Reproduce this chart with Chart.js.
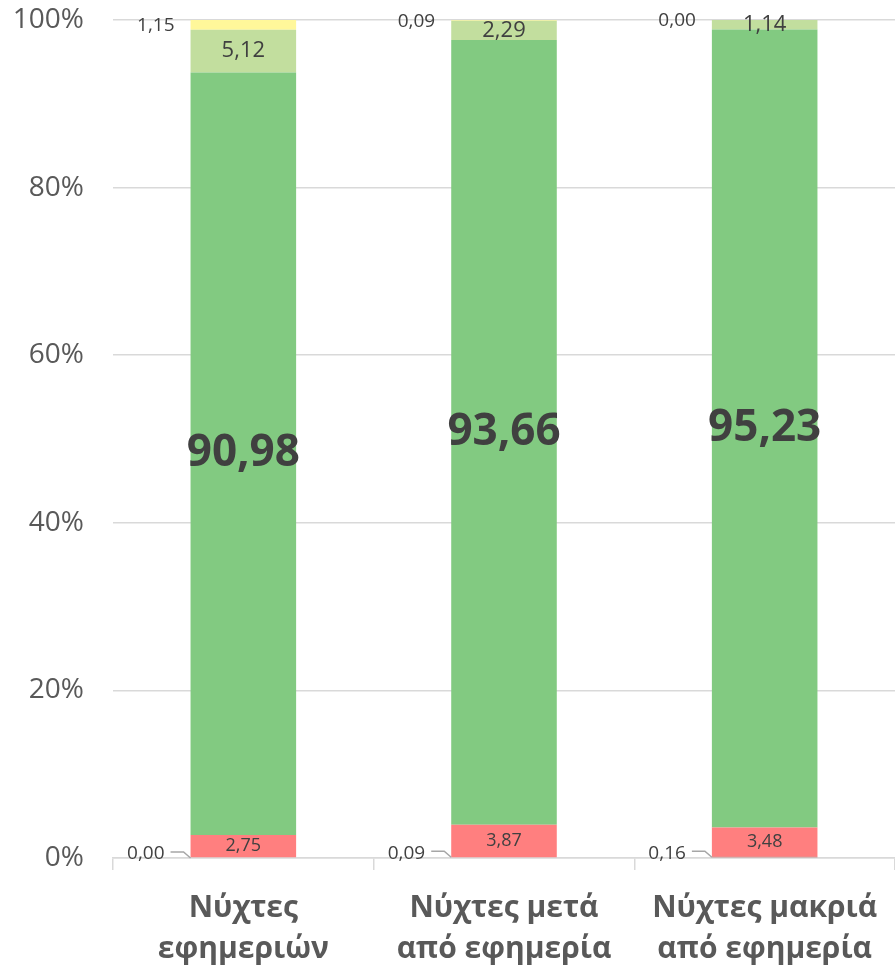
<!DOCTYPE html>
<html>
<head>
<meta charset="utf-8">
<script src="https://cdn.jsdelivr.net/npm/chart.js@4.4.1/dist/chart.umd.min.js"></script>
<style>
  body { margin: 0; background: #fff; }
</style>
</head>
<body>
<canvas id="nightsChart" width="895" height="971"></canvas>
<script>
// data (percent of nights)
const categories = [['Νύχτες', 'εφημεριών'], ['Νύχτες μετά', 'από εφημερία'], ['Νύχτες μακριά', 'από εφημερία']]
const level1 = [0.00, 0.09, 0.16]
const level2 = [2.75, 3.87, 3.48]
const level3 = [90.98, 93.66, 95.23]
const level4 = [5.12, 2.29, 1.14]
const level5 = [1.15, 0.09, 0.00]
const yTicks = [0, 20, 40, 60, 80, 100]

const labelColor = '#404040'
const fontName = '"Open Sans", "Noto Sans", sans-serif'

function fmt(v) {
  return v.toFixed(2).replace('.', ',')
}

// draws the value labels like excel does (inside, or outside with a leader line)
const valueLabels = {
  id: 'valueLabels',
  afterDatasetsDraw(chart) {
    const ctx = chart.ctx
    ctx.save()
    ctx.fillStyle = labelColor
    ctx.textBaseline = 'middle'
    chart.data.datasets.forEach((ds, di) => {
      const meta = chart.getDatasetMeta(di)
      meta.data.forEach((bar, i) => {
        const v = ds.data[i]
        const left = bar.x - bar.width / 2
        const top = Math.min(bar.y, bar.base)
        const bottom = Math.max(bar.y, bar.base)
        const mid = (top + bottom) / 2
        if (di == 0) {
          // tiny bottom segment: outside left with leader
          ctx.font = '19px ' + fontName
          ctx.textAlign = 'right'
          ctx.fillText(fmt(v), left - 26, bottom - 4)
          ctx.strokeStyle = '#a6a6a6'
          ctx.lineWidth = 1.5
          ctx.beginPath()
          ctx.moveTo(left - 20, bottom - 6)
          ctx.lineTo(left - 7, bottom - 6)
          ctx.lineTo(left, bottom)
          ctx.stroke()
        } else if (di == 4) {
          // top segment: outside left
          ctx.font = '19px ' + fontName
          ctx.textAlign = 'right'
          ctx.fillText(fmt(v), left - 16, mid + 1)
        } else {
          ctx.textAlign = 'center'
          if (di == 2) ctx.font = 'bold 44px ' + fontName
          else if (di == 3) ctx.font = '22px ' + fontName
          else ctx.font = '18px ' + fontName
          ctx.fillText(fmt(v), bar.x, mid)
        }
      })
    })
    ctx.restore()
  }
}

const data = {
  labels: categories,
  datasets: [
    { label: 'Επίπεδο 1', data: level1, backgroundColor: '#C0504D' },
    { label: 'Επίπεδο 2', data: level2, backgroundColor: '#FF7F7F' },
    { label: 'Επίπεδο 3', data: level3, backgroundColor: '#82CA81' },
    { label: 'Επίπεδο 4', data: level4, backgroundColor: '#C2DE9E' },
    { label: 'Επίπεδο 5', data: level5, backgroundColor: '#FFF79A' }
  ]
}

const config = {
  type: 'bar',
  data: data,
  options: {
    responsive: false,
    animation: false,
    layout: {
      padding: { top: 20, right: 0, left: 0, bottom: 0 }
    },
    datasets: {
      bar: {
        categoryPercentage: 1,
        barPercentage: 0.405,
        borderWidth: 0
      }
    },
    scales: {
      x: {
        stacked: true,
        grid: {
          offset: true,
          drawOnChartArea: false,
          tickLength: 12,
          color: '#d9d9d9',
          lineWidth: 1.5
        },
        border: { color: '#d9d9d9', width: 1.5 },
        ticks: {
          color: '#595959',
          padding: 18,
          maxRotation: 0,
          font: { family: fontName, size: 30, weight: 'bold', lineHeight: 41 / 30 }
        },
        afterFit(scale) {
          scale.height = 113
          scale.paddingLeft = 0
          scale.paddingRight = 0
        }
      },
      y: {
        stacked: true,
        min: 0,
        max: 100,
        afterBuildTicks(scale) {
          scale.ticks = yTicks.map(v => ({ value: v }))
        },
        grid: {
          drawTicks: false,
          color: '#d9d9d9',
          lineWidth: 1.5
        },
        border: { display: false },
        ticks: {
          color: '#595959',
          padding: 29,
          font: { family: fontName, size: 28 },
          callback: v => v + '%'
        },
        afterFit(scale) {
          scale.width = 113
          scale.paddingTop = 0
          scale.paddingBottom = 0
        }
      }
    },
    plugins: {
      legend: { display: false },
      tooltip: { enabled: false }
    }
  },
  plugins: [valueLabels]
}

const ctx = document.getElementById('nightsChart').getContext('2d')
new Chart(ctx, config)
</script>
</body>
</html>
